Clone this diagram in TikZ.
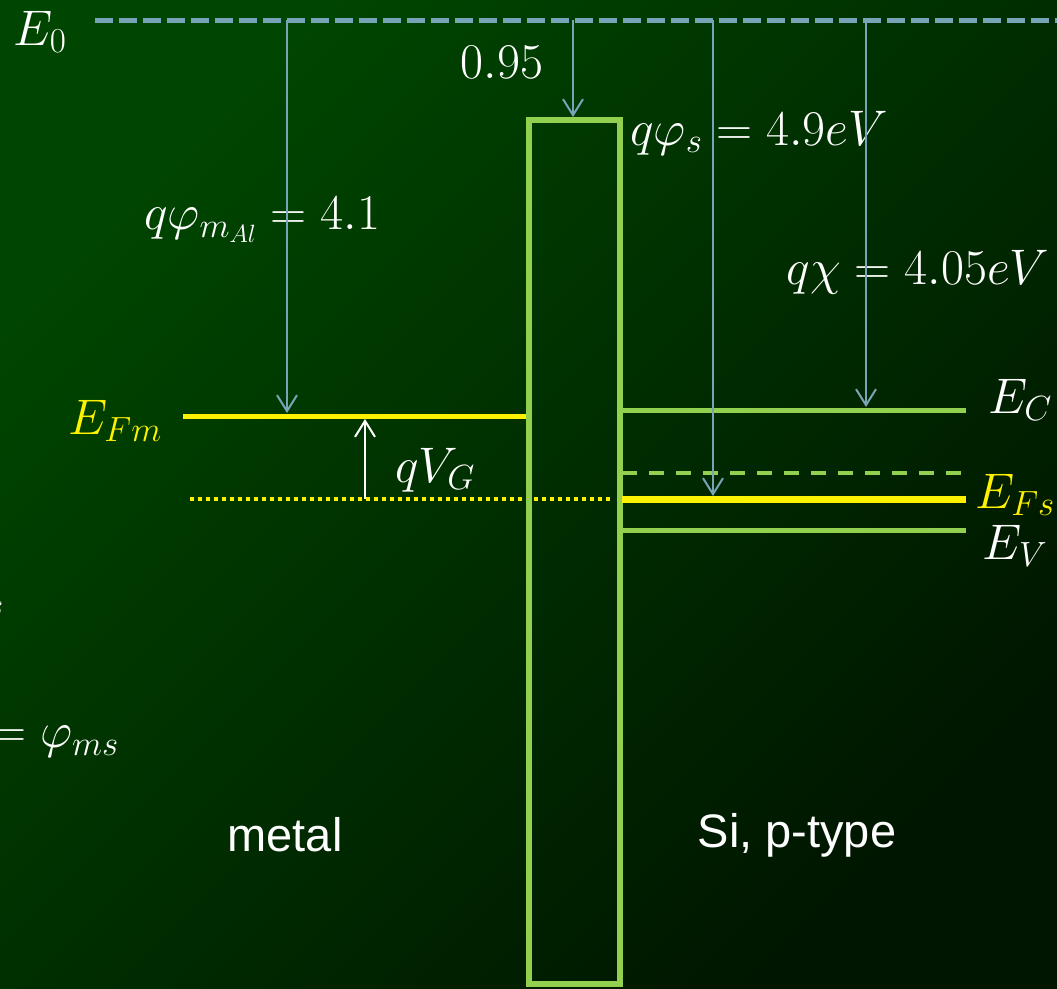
\RequirePackage{fix-cm}
\documentclass[tikz,border=0pt]{standalone}
\usepackage{fontspec}
\setsansfont{Liberation Sans}
\usepackage{xcolor}
\usepackage{tikz}
\usetikzlibrary{arrows.meta, positioning}

\definecolor{bgtop}{RGB}{0,70,0}
\definecolor{bgbot}{RGB}{0,22,0}
\definecolor{oxgreen}{RGB}{146,208,80}
\definecolor{vacblue}{RGB}{120,164,184}

\begin{document}
\begin{tikzpicture}[x=1pt, y=-1pt,
        every node/.style={text=white, inner sep=2pt, font=\fontsize{50}{60}\selectfont},
        vacuum/.style={draw=vacblue, line width=5pt, dash pattern=on 18pt off 6pt},
        band/.style={draw=oxgreen, line width=5pt},
        fermi/.style={draw=yellow, line width=6pt},
        energy/.style={color=vacblue, line width=2pt, -{Straight Barb[length=16pt, width=20pt]}},
        bias/.style={color=white, line width=2pt, -{Straight Barb[length=16pt, width=20pt]}},
        region/.style={font=\sffamily\fontsize{47}{56}\selectfont}]

        \useasboundingbox (0,0) rectangle (1057,988);
        \shade[top color=bgtop, bottom color=bgbot, shading angle=45] (0,0) rectangle (1057,988);
        \clip (0,0) rectangle (1057,988);

        % vacuum level
        \coordinate (v1) at (95,20);
        \coordinate (v2) at (1057,20);
        \draw[vacuum] (v1) -- (v2);
        \node (E0) at (40,32) {$E_0$};

        % metal side
        \coordinate (fm1) at (183,416);
        \coordinate (fm2) at (526,416);
        \coordinate (vg1) at (190,499);
        \coordinate (vg2) at (612,499);
        \draw[fermi, line width=5pt] (fm1) -- (fm2);
        \draw[draw=yellow, line width=4pt, dash pattern=on 4pt off 4pt] (vg1) -- (vg2);
        \node[text=yellow] (lFm) at (115,421) {$E_{Fm}$};

        % oxide
        \node[draw=oxgreen, line width=6pt, minimum width=91pt, minimum height=864pt, inner sep=0pt] (ox) at (574.5,552) {};

        % semiconductor side
        \coordinate (ec1) at (622,410);
        \coordinate (ec2) at (966,410);
        \coordinate (ei1) at (622,473);
        \coordinate (ei2) at (966,473);
        \coordinate (fs1) at (622,499);
        \coordinate (fs2) at (966,499);
        \coordinate (ev1) at (622,530);
        \coordinate (ev2) at (966,530);
        \draw[band] (ec1) -- (ec2);
        \draw[band, line width=4pt, dash pattern=on 15pt off 12pt] (ei1) -- (ei2);
        \draw[fermi, line width=7pt] (fs1) -- (fs2);
        \draw[band] (ev1) -- (ev2);
        \node (lC) at (1020,400) {$E_C$};
        \node[text=yellow] (lFs) at (1015,495) {$E_{Fs}$};
        \node (lV) at (1015,546) {$E_V$};

        % energies from the vacuum level
        \coordinate (a1) at (287,20);
        \coordinate (b1) at (287,413);
        \coordinate (a2) at (573,20);
        \coordinate (a3) at (713,20);
        \coordinate (b3) at (713,496);
        \coordinate (a4) at (866,20);
        \coordinate (b4) at (866,407);
        \coordinate (g1) at (365,499);
        \coordinate (g2) at (365,419);

        \node (lphim) at (262,220) {$q\varphi_{m_{Al}} = 4.1$};
        \node (l095) at (502,62) {$0.95$};
        \node (lphis) at (759,133) {$q\varphi_s = 4.9eV$};
        \node (lchi) at (918,272) {$q\chi = 4.05eV$};
        \node (lVG) at (435,470) {$qV_G$};

        \path[energy]
        (a1) edge (b1)
        (a2) edge (a2 |- ox.north)
        (a3) edge (b3)
        (a4) edge (b4);
        \path[bias] (g1) edge (g2);

        \node[region] (metal) at (285,835) {metal};
        \node[region] (si) at (797,835) {Si, p-type};

        % cut at the left border
        \node[anchor=east] (lcut) at (6,603) {$\varphi_s$};
        \node[anchor=east] (lms) at (121,742) {$=\varphi_{ms}$};
\end{tikzpicture}
\end{document}
